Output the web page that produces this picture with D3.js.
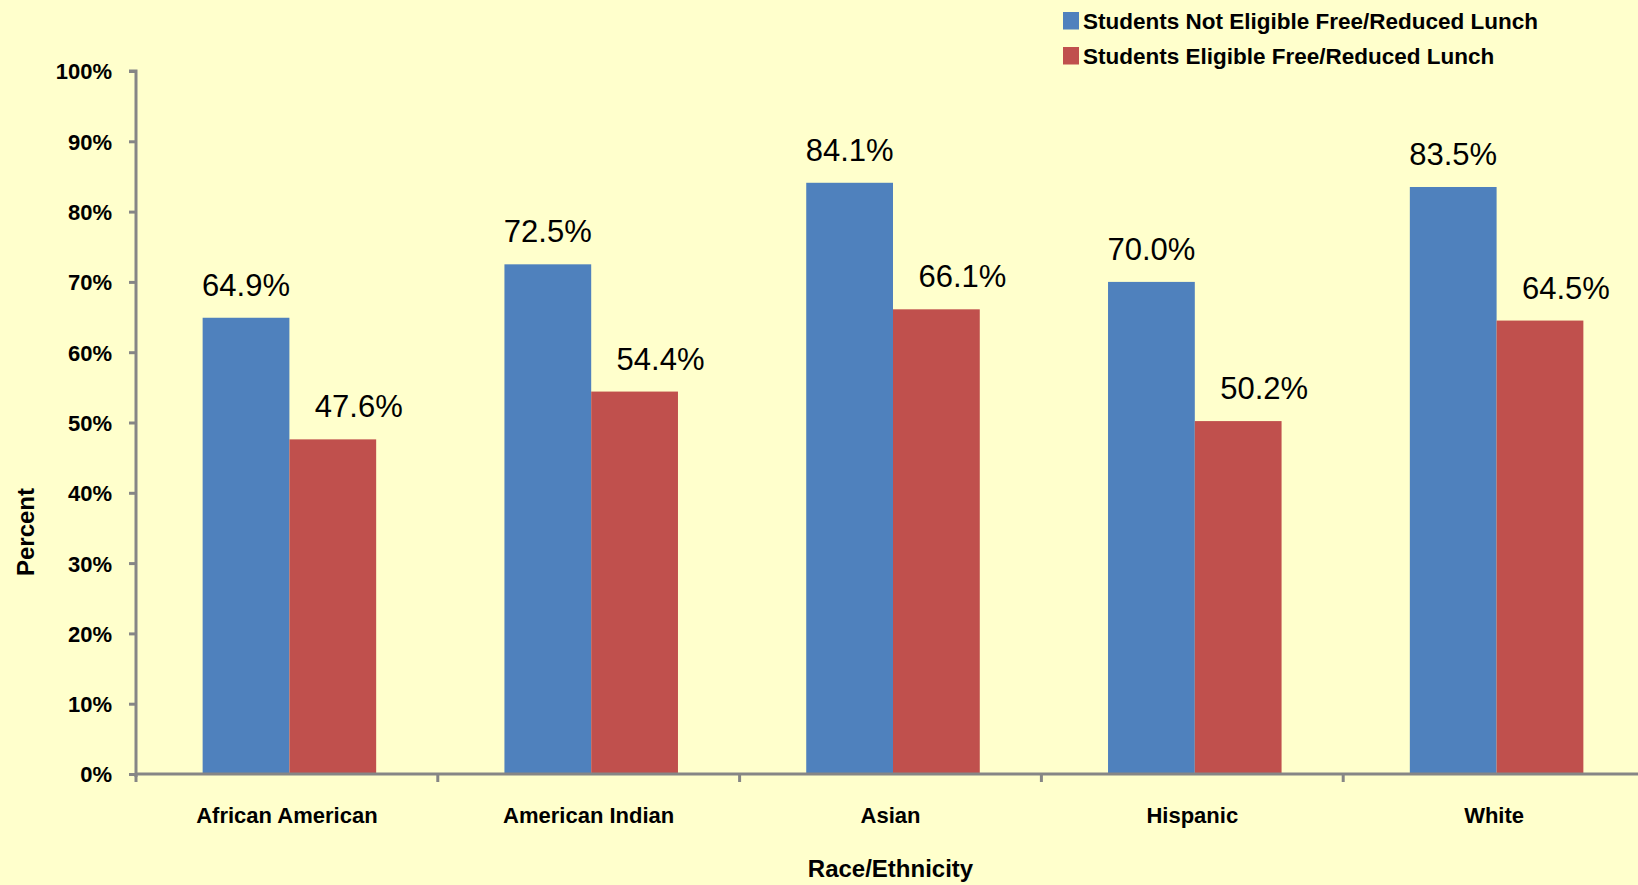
<!DOCTYPE html>
<html>
<head>
<meta charset="utf-8">
<script src="https://cdn.jsdelivr.net/npm/d3@7"></script>
<style>
  body { margin: 0; background: #ffffcc; }
  svg { display: block; }
  text { font-family: "Liberation Sans", Arial, sans-serif; fill: #000; }
</style>
</head>
<body>
<script>
// chart data
var categories = ["African American", "American Indian", "Asian", "Hispanic", "White"];
var seriesNames = ["Students Not Eligible Free/Reduced Lunch", "Students Eligible Free/Reduced Lunch"];
var notEligible = [64.9, 72.5, 84.1, 70.0, 83.5];
var eligible = [47.6, 54.4, 66.1, 50.2, 64.5];
var yTicks = [0, 10, 20, 30, 40, 50, 60, 70, 80, 90, 100];
var colors = ["#4f81bd", "#c0504d"];

var width = 1638, height = 885;

// plot area (axis runs off the right edge like the original)
var plotLeft = 136, plotRight = 1645, plotTop = 71, plotBottom = 774;

var svg = d3.select("body").append("svg")
    .attr("width", width)
    .attr("height", height);

var x0 = d3.scaleBand().domain(categories).range([plotLeft, plotRight]).padding(0);
var groupW = x0.bandwidth() * 0.575;
var x1 = d3.scaleBand().domain([0, 1]).range([0, groupW]).padding(0);
var y = d3.scaleLinear().domain([0, 100]).range([plotBottom, plotTop]);

var rows = categories.map(function(c, i) {
  return {cat: c, values: [notEligible[i], eligible[i]]};
});

// bars
var groups = svg.selectAll("g.grp")
    .data(rows)
  .enter().append("g")
    .attr("class", "grp")
    .attr("transform", function(d) {
      return "translate(" + (x0(d.cat) + (x0.bandwidth() - groupW) / 2 + 2.5) + ",0)";
    });

groups.selectAll("rect")
    .data(function(d) { return d.values.map(function(v, k) { return {k: k, v: v}; }); })
  .enter().append("rect")
    .attr("x", function(d) { return x1(d.k); })
    .attr("y", function(d) { return y(d.v); })
    .attr("width", x1.bandwidth())
    .attr("height", function(d) { return plotBottom - y(d.v); })
    .attr("fill", function(d) { return colors[d.k]; });

// value labels (the second series' labels sit a little right of their bars)
groups.selectAll("text.val")
    .data(function(d) { return d.values.map(function(v, k) { return {k: k, v: v}; }); })
  .enter().append("text")
    .attr("class", "val")
    .attr("x", function(d) { return x1(d.k) + x1.bandwidth() / 2 + (d.k === 1 ? 26 : 0); })
    .attr("y", function(d) { return y(d.v) - 22; })
    .attr("text-anchor", "middle")
    .style("font-size", "31px")
    .text(function(d) { return d.v.toFixed(1) + "%"; });

// y axis
var yAxis = svg.append("g")
    .attr("transform", "translate(" + plotLeft + ",0)")
    .call(d3.axisLeft(y).tickValues(yTicks).tickSize(7).tickPadding(17)
      .tickFormat(function(d) { return d + "%"; }));
yAxis.selectAll("path, line").attr("stroke", "#868686").attr("stroke-width", 3);
yAxis.select(".domain").attr("d", "M0," + (plotBottom + 3) + "V" + plotTop + "H-7");
yAxis.selectAll("text")
    .style("font-size", "22px")
    .style("font-weight", "bold")
    .attr("dy", "0.36em");

// x axis
var xAxis = svg.append("g")
    .attr("transform", "translate(0," + plotBottom + ")");
xAxis.append("line")
    .attr("x1", plotLeft).attr("x2", plotRight)
    .attr("stroke", "#868686").attr("stroke-width", 3);
xAxis.selectAll("line.tk")
    .data(categories)
  .enter().append("line")
    .attr("class", "tk")
    .attr("x1", function(d) { return x0(d); })
    .attr("x2", function(d) { return x0(d); })
    .attr("y1", 0).attr("y2", 8)
    .attr("stroke", "#868686").attr("stroke-width", 3);
xAxis.selectAll("text")
    .data(categories)
  .enter().append("text")
    .attr("x", function(d) { return x0(d) + x0.bandwidth() / 2; })
    .attr("y", 49)
    .attr("text-anchor", "middle")
    .style("font-size", "22px")
    .style("font-weight", "bold")
    .text(function(d) { return d; });

// axis titles
svg.append("text")
    .attr("x", (plotLeft + plotRight) / 2)
    .attr("y", 877)
    .attr("text-anchor", "middle")
    .style("font-size", "24px")
    .style("font-weight", "bold")
    .text("Race/Ethnicity");

svg.append("text")
    .attr("transform", "translate(34,532) rotate(-90)")
    .attr("text-anchor", "middle")
    .style("font-size", "24px")
    .style("font-weight", "bold")
    .text("Percent");

// legend
var legend = svg.append("g")
    .attr("transform", "translate(1063,12)");
var item = legend.selectAll("g")
    .data(seriesNames)
  .enter().append("g")
    .attr("transform", function(d, i) { return "translate(0," + (i * 35) + ")"; });
item.append("rect")
    .attr("width", 16).attr("height", 17.5)
    .attr("fill", function(d, i) { return colors[i]; });
item.append("text")
    .attr("x", 20)
    .attr("y", 17)
    .style("font-size", "22.5px")
    .style("font-weight", "bold")
    .text(function(d) { return d; });
</script>
</body>
</html>
